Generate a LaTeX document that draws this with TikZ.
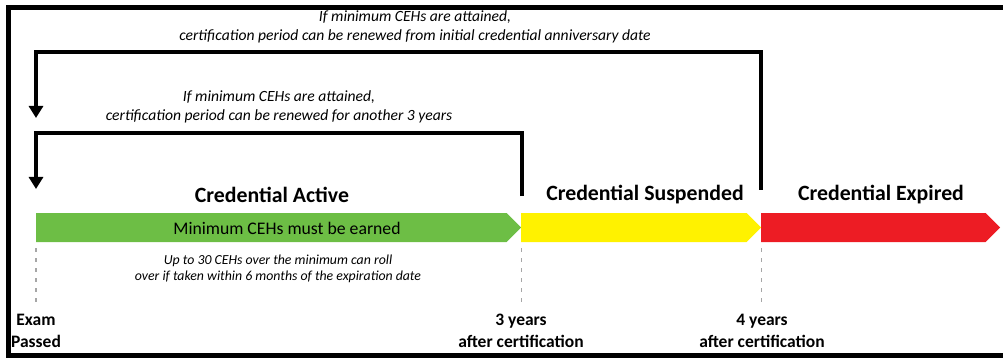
\documentclass[tikz,border=0pt]{standalone}
\usepackage{fontspec}
\setmainfont{Carlito}
\usetikzlibrary{arrows.meta,shapes.symbols}
\definecolor{cgreen}{HTML}{6DBE45}
\definecolor{cyellow}{HTML}{FFF200}
\definecolor{cred}{HTML}{ED1C24}
\definecolor{cgray}{HTML}{A6A6A6}
\tikzset{
  bar/.style={signal, signal to=east, signal pointer angle=90, draw=none,
    inner sep=0pt, minimum height=29pt, anchor=west},
  conn/.style={line width=4pt, line join=miter, -{Triangle[width=14pt,length=12pt]}},
  note/.style={font=\itshape\fontsize{15.6}{19.5}\selectfont, align=center, inner sep=0pt},
  smallnote/.style={font=\itshape\fontsize{13.8}{16.5}\selectfont, align=center, inner sep=0pt},
  title/.style={font=\bfseries\fontsize{21.8}{24}\selectfont, inner sep=0pt},
  inbar/.style={font=\fontsize{17.7}{20}\selectfont, inner sep=0pt},
  tick/.style={draw=cgray, line width=1.5pt, dash pattern=on 4pt off 6pt},
  mark label/.style={font=\bfseries\fontsize{17.5}{22}\selectfont, inner sep=0pt, anchor=base},
}
\begin{document}
\begin{tikzpicture}[x=1pt,y=-1pt]
\useasboundingbox (0,0) rectangle (1003,358);
% frame
\draw[line width=5pt] (1003,7.5) -- (8.5,7.5) -- (8.5,355.5) -- (1003,355.5);
% bars
\node[bar, fill=cgreen, minimum width=485pt] (active) at (36,227.5) {};
\node[bar, fill=cyellow, minimum width=240pt] (susp) at (521,227.5) {};
\node[bar, fill=cred, minimum width=239pt] (expd) at (761,227.5) {};
% titles
\node[title] (tactive) at (272,195) {Credential Active};
\node[title] (tsusp) at (645,195) {Credential Suspended};
\node[title] (texp) at (881,195) {Credential Expired};
\node[inbar] (minceh) at (287,228) {Minimum CEHs must be earned};
% notes
\node[note] (topnote) at (415,27) {If minimum CEHs are attained,\\certification period can be renewed from initial credential anniversary date};
\node[note] (midnote) at (279,107) {If minimum CEHs are attained,\\certification period can be renewed for another 3 years};
\node[smallnote] (rollnote) at (278,269) {Up to 30 CEHs over the minimum can roll\\over if taken within 6 months of the expiration date};
% connector coordinates
\coordinate (o1) at (761,190);
\coordinate (o2) at (36,118);
\coordinate (i1) at (521.5,196);
\coordinate (i2) at (36,189);
\draw[conn] (o1) |- (o2 |- 0,52) -- (o2);
\draw[conn] (i1) |- (i2 |- 0,133) -- (i2);
% ticks
\coordinate (d0) at (36,248);
\coordinate (d1) at (521.5,248);
\coordinate (d2) at (761.5,248);
\coordinate (e0) at (36,306);
\coordinate (e1) at (521.5,306);
\coordinate (e2) at (761.5,306);
\draw[tick] (d0) -- (e0);
\draw[tick] (d1) -- (e1);
\draw[tick] (d2) -- (e2);
\node[mark label] (l0a) at (36,325) {Exam};
\node[mark label] (l0b) at (36,347) {Passed};
\node[mark label] (l1a) at (521,325) {3 years};
\node[mark label] (l1b) at (521,347) {after certification};
\node[mark label] (l2a) at (762,325) {4 years};
\node[mark label] (l2b) at (762,347) {after certification};
\end{tikzpicture}
\end{document}
